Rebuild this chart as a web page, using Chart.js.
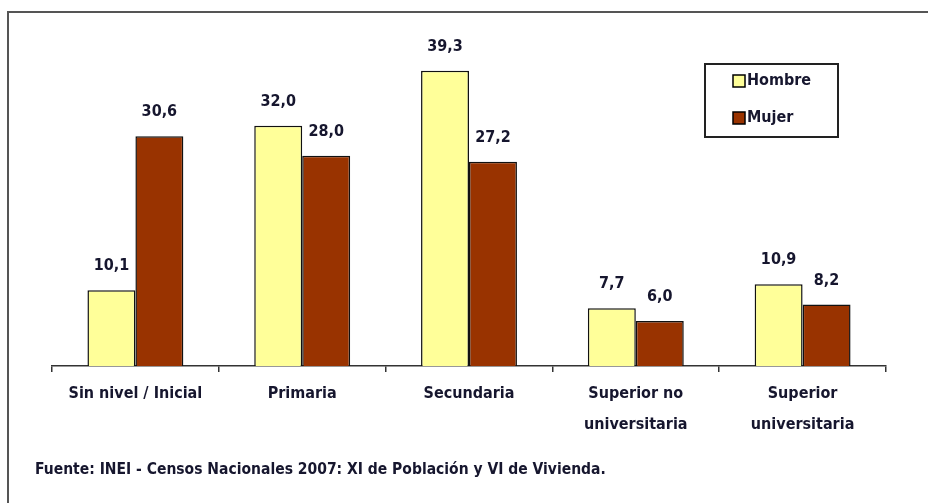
<!DOCTYPE html>
<html>
<head>
<meta charset="utf-8">
<script src="https://cdn.jsdelivr.net/npm/chart.js@4.4.0/dist/chart.umd.min.js"></script>
<style>
html,body{margin:0;padding:0;background:#fff;}
#wrap{width:928px;height:503px;position:relative;}
</style>
</head>
<body>
<div id="wrap"><canvas id="barChart" width="928" height="503"></canvas></div>
<script>
// data
var categories = ["Sin nivel / Inicial", "Primaria", "Secundaria", ["Superior no", "universitaria"], ["Superior", "universitaria"]];
var hombre = [10.1, 32.0, 39.3, 7.7, 10.9];
var mujer = [30.6, 28.0, 27.2, 6.0, 8.2];
var seriesNames = ["Hombre", "Mujer"];
var sourceText = "Fuente: INEI - Censos Nacionales 2007: XI de Población y VI de Vivienda.";

var FONT = "'Liberation Sans Narrow', 'DejaVu Sans Condensed', 'Liberation Sans', Arial, sans-serif";
var INK = "#16162e";

// value labels, frame, legend box and source line
var extras = {
  id: "extras",
  afterDraw: function (chart) {
    var ctx = chart.ctx;
    ctx.save();
    // outer frame (only top and left edges visible)
    ctx.strokeStyle = "#555";
    ctx.lineWidth = 2;
    ctx.beginPath();
    ctx.moveTo(8, 503);
    ctx.lineTo(8, 12);
    ctx.lineTo(928, 12);
    ctx.stroke();

    // values above bars
    ctx.fillStyle = INK;
    ctx.font = "bold 16px " + FONT;
    ctx.textAlign = "center";
    ctx.textBaseline = "middle";
    chart.data.datasets.forEach(function (ds, i) {
      chart.getDatasetMeta(i).data.forEach(function (bar, j) {
        ctx.fillText(ds.data[j].toFixed(1).replace(".", ","), bar.x, bar.y - 24);
      });
    });

    // legend
    ctx.strokeStyle = "#222";
    ctx.lineWidth = 2;
    ctx.strokeRect(705, 64, 133, 73);
    var rows = [81, 118];
    chart.data.datasets.forEach(function (ds, i) {
      ctx.fillStyle = ds.backgroundColor;
      ctx.fillRect(733, rows[i] - 6, 12, 12);
      ctx.lineWidth = 1.5;
      ctx.strokeStyle = "#000";
      ctx.strokeRect(733, rows[i] - 6, 12, 12);
      ctx.fillStyle = INK;
      ctx.textAlign = "left";
      ctx.fillText(ds.label, 747, rows[i]);
    });

    // source
    ctx.font = "bold 15.5px " + FONT;
    ctx.fillText(sourceText, 35, 470);
    ctx.restore();
  }
};

new Chart(document.getElementById("barChart"), {
  type: "bar",
  data: {
    labels: categories,
    datasets: [
      {
        label: seriesNames[0],
        data: hombre,
        backgroundColor: "#FFFF99",
        borderColor: "#111",
        borderWidth: 1.5
      },
      {
        label: seriesNames[1],
        data: mujer,
        backgroundColor: "#993300",
        borderColor: "#111",
        borderWidth: 1.5
      }
    ]
  },
  options: {
    responsive: false,
    animation: false,
    layout: { padding: { left: 52, right: 42, top: 28, bottom: 0 } },
    plugins: { legend: { display: false }, tooltip: { enabled: false } },
    datasets: { bar: { categoryPercentage: 0.575, barPercentage: 1 } },
    scales: {
      y: { display: false, min: 0, max: 45 },
      x: {
        afterFit: function (scale) { scale.height = 137; },
        grid: { display: true, drawOnChartArea: false, drawTicks: true, tickLength: 6, color: "#333", lineWidth: 1.5 },
        border: { display: true, color: "#333", width: 1.5 },
        ticks: { color: INK, padding: 7, maxRotation: 0, font: { family: FONT, size: 16, weight: "bold", lineHeight: 1.9 } }
      }
    }
  },
  plugins: [extras]
});
</script>
</body>
</html>
